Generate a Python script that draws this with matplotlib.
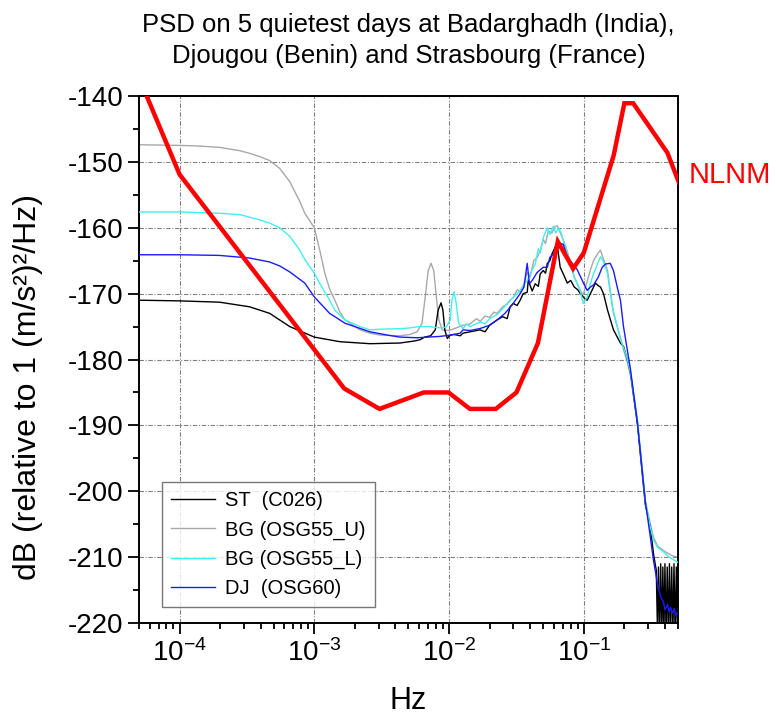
import numpy as np
import matplotlib
matplotlib.use("Agg")
import matplotlib.pyplot as plt
from matplotlib.ticker import MultipleLocator, LogLocator, NullFormatter
import matplotlib.transforms as mtransforms

plt.rcParams['font.family'] = ['Liberation Sans', 'DejaVu Sans']
plt.rcParams['mathtext.fontset'] = 'custom'
plt.rcParams['mathtext.rm'] = 'Liberation Sans'
plt.rcParams['mathtext.it'] = 'Liberation Sans:italic'
plt.rcParams['mathtext.bf'] = 'Liberation Sans:bold'
plt.rcParams['axes.unicode_minus'] = False

# ---------------- data ----------------
nlnm_period = [1.24, 2.40, 4.30, 5.00, 6.00, 10.0, 12.0, 15.6, 21.9, 31.6,
               45.0, 70.0, 101.0, 154.0, 328.0, 600.0, 10000.0, 100000.0]
nlnm_db = [-163.7, -148.6, -141.1, -141.1, -149.0, -163.8, -166.2, -162.1,
           -177.5, -185.0, -187.5, -187.5, -185.0, -185.0, -187.5, -184.4,
           -151.9, -103.1]

bgu_f = [5e-5, 1e-4, 1.41e-4, 1.98e-4, 2.79e-4, 3.31e-4, 3.93e-4, 4.67e-4,
         5.54e-4, 6.57e-4, 7.8e-4, 8.5e-4, 1e-3, 1.1e-3, 1.2e-3, 1.3e-3,
         1.42e-3, 1.55e-3, 1.69e-3, 2.18e-3, 2.59e-3, 3.07e-3, 4.32e-3,
         5.13e-3, 5.8e-3, 6.3e-3, 6.7e-3, 7.0e-3, 7.35e-3, 7.7e-3, 8.0e-3,
         8.4e-3, 8.9e-3, 1.0e-2, 1.1e-2, 1.27e-2, 1.43e-2, 1.6e-2, 1.7e-2,
         1.85e-2, 2.0e-2, 2.15e-2, 2.27e-2, 2.5e-2, 2.7e-2, 2.84e-2, 3.0e-2,
         3.2e-2, 3.37e-2, 3.6e-2, 3.8e-2, 4.0e-2, 4.25e-2, 4.5e-2, 4.75e-2,
         5.0e-2, 5.2e-2, 5.45e-2, 5.8e-2, 6.1e-2, 6.35e-2, 6.7e-2, 7.04e-2,
         7.54e-2, 7.94e-2, 8.5e-2, 8.95e-2, 9.4e-2, 0.099, 0.103, 0.112,
         0.118, 0.128, 0.133, 0.140, 0.150, 0.157, 0.166, 0.177, 0.187,
         0.197, 0.211, 0.222, 0.25, 0.272, 0.286, 0.312, 0.329, 0.352, 0.39,
         0.418, 0.455, 0.5]
bgu_db = [-147.4, -147.5, -147.6, -147.8, -148.3, -148.7, -149.2, -149.8,
          -151.0, -153.0, -156.0, -157.8, -160.0, -163.5, -167.0, -169.3,
          -171.0, -172.8, -174.0, -175.5, -176.0, -176.3, -176.4,
          -176.2, -175.8, -174.5, -170.0, -166.5, -165.4, -166.5, -170.0,
          -174.0, -175.5, -175.6, -175.3, -174.8, -174.6, -173.8, -174.2,
          -173.4, -173.6, -172.8, -173.0, -172.0, -171.6, -171.0, -170.6,
          -169.4, -169.8, -168.5, -166.8, -167.5, -165.0, -164.5, -163.5,
          -161.8, -162.4, -160.5, -160.8, -159.8, -159.7, -160.8, -161.8,
          -163.6, -165.2, -167.5, -168.5, -169.5, -170.2, -169.0, -166.4,
          -165.0, -163.8, -163.4, -164.8, -166.5, -169.5, -173.0, -175.0,
          -176.6, -178.5, -180.5, -182.5, -189.5, -197.0, -201.5, -205.0,
          -207.0, -208.3, -209.0, -209.4, -209.8, -210.0]

bgl_f = [5e-5, 1e-4, 1.41e-4, 1.98e-4, 2.79e-4, 3.93e-4, 4.67e-4, 5.54e-4,
         6.57e-4, 7.8e-4, 8.5e-4, 1e-3, 1.1e-3, 1.3e-3, 1.42e-3, 1.69e-3,
         2.18e-3, 2.59e-3, 3.07e-3, 4.55e-3, 5.13e-3, 6.0e-3, 7.0e-3,
         8.57e-3, 9.5e-3, 1.02e-2, 1.05e-2, 1.09e-2, 1.13e-2, 1.18e-2,
         1.27e-2, 1.35e-2, 1.43e-2, 1.7e-2, 1.85e-2, 2.0e-2, 2.27e-2, 2.5e-2,
         2.84e-2, 3.1e-2, 3.37e-2, 3.6e-2, 3.8e-2, 4.0e-2, 4.36e-2, 4.6e-2,
         4.75e-2, 5.0e-2, 5.36e-2, 5.6e-2, 5.93e-2, 6.2e-2, 6.5e-2, 6.8e-2,
         7.04e-2, 7.54e-2, 7.94e-2, 8.5e-2, 9.4e-2, 0.099, 0.106, 0.112,
         0.118, 0.128, 0.133, 0.140, 0.145, 0.150, 0.163, 0.177, 0.187, 0.197,
         0.211, 0.222, 0.25, 0.272, 0.286, 0.312, 0.329, 0.352, 0.39, 0.418,
         0.455, 0.5]
bgl_db = [-157.6, -157.6, -157.7, -157.8, -158.0, -158.8, -159.3, -160.0,
          -161.3, -163.4, -164.8, -166.9, -168.5, -171.0, -172.5, -174.0,
          -175.0, -175.5, -175.4, -175.3, -175.2, -175.0, -175.0,
          -175.2, -175.1, -174.0, -171.0, -169.7, -171.5, -174.5,
          -175.3, -174.6, -175.0, -174.3, -174.6, -173.8, -173.2, -172.3,
          -171.0, -170.3, -169.5, -168.6, -168.0, -167.0, -165.5, -163.2,
          -163.8, -161.5, -160.0, -161.0, -159.8, -160.8, -160.0, -160.8,
          -162.0, -163.8, -165.5, -167.5, -169.5, -171.5, -170.5, -168.5,
          -167.0, -165.2, -164.4, -165.2, -166.0, -167.0, -172.0, -175.0,
          -177.0, -178.2, -180.0, -182.0, -189.2, -196.8, -201.5, -205.5,
          -207.4, -208.5, -209.2, -209.8, -210.3, -210.8]

st_f = [5e-5, 1e-4, 1.98e-4, 3.31e-4, 4.67e-4, 6.57e-4, 1e-3, 1.55e-3,
        2.59e-3, 4.32e-3, 5.5e-3, 6.09e-3, 6.6e-3, 7.3e-3, 7.9e-3, 8.3e-3,
        8.72e-3, 9.0e-3, 9.3e-3, 9.7e-3, 1.02e-2, 1.09e-2, 1.21e-2, 1.27e-2,
        1.43e-2, 1.7e-2, 1.85e-2, 2.0e-2, 2.27e-2, 2.5e-2, 2.7e-2, 2.84e-2,
        3.0e-2, 3.2e-2, 3.37e-2, 3.55e-2, 3.8e-2, 3.87e-2, 4.14e-2, 4.36e-2,
        4.6e-2, 4.75e-2, 5.0e-2, 5.2e-2, 5.36e-2, 5.6e-2, 5.8e-2, 6.14e-2,
        6.35e-2, 6.68e-2, 7.04e-2, 7.54e-2, 8.0e-2, 8.5e-2, 9.0e-2, 9.42e-2,
        0.1, 0.106, 0.112, 0.122, 0.128, 0.133, 0.140, 0.150, 0.166, 0.187,
        0.197, 0.214, 0.222, 0.25, 0.272, 0.286, 0.312, 0.329, 0.345,
        0.352, 0.358, 0.365, 0.372, 0.379, 0.386, 0.393, 0.400, 0.408, 0.416,
        0.424, 0.432, 0.440, 0.449, 0.458, 0.467, 0.476, 0.486, 0.495, 0.5]
st_db = [-171.0, -171.1, -171.3, -172.0, -173.0, -175.0, -176.6, -177.3,
         -177.6, -177.5, -177.2, -177.0, -176.6, -176.4, -175.5, -172.5,
         -171.4, -172.5, -175.5, -176.8, -176.3, -176.2, -176.4, -176.0,
         -175.8, -175.5, -175.8, -174.8, -174.0, -173.5, -173.8, -172.0,
         -171.5, -171.8, -171.0, -170.0, -169.8, -168.0, -169.6, -168.5,
         -168.9, -167.0, -166.5, -166.9, -165.4, -165.0, -164.0, -162.9,
         -162.6, -166.0, -167.0, -168.4, -168.0, -169.0, -169.4, -170.0,
         -170.6, -171.0, -170.0, -168.4, -168.8, -169.0, -170.0, -172.5,
         -175.5, -177.5, -178.0, -180.5, -182.0, -189.8, -197.5, -202.0,
         -205.5, -209.5, -212.0,
         -221.0, -211.5, -222.0, -211.0, -222.0, -211.5, -222.0, -211.0,
         -222.0, -211.5, -222.0, -211.0, -222.0, -211.5, -222.0, -211.0,
         -222.0, -211.5, -222.0, -212.0]

dj_f = [5e-5, 1e-4, 1.98e-4, 3.31e-4, 4.67e-4, 5.54e-4, 6.57e-4, 8.5e-4,
        1e-3, 1.3e-3, 1.69e-3, 2.59e-3, 3.5e-3, 4.32e-3, 5.78e-3, 7.0e-3,
        8.5e-3, 1.02e-2, 1.21e-2, 1.27e-2, 1.43e-2, 1.7e-2, 2.0e-2, 2.27e-2,
        2.6e-2, 2.99e-2, 3.37e-2, 3.6e-2, 3.8e-2, 3.95e-2, 4.14e-2, 4.5e-2,
        5.0e-2, 5.36e-2, 5.6e-2, 5.93e-2, 6.14e-2, 6.46e-2, 7.04e-2, 7.54e-2,
        8.95e-2, 0.1, 0.106, 0.112, 0.118, 0.128, 0.137, 0.145, 0.157, 0.166,
        0.177, 0.187, 0.197, 0.214, 0.222, 0.25, 0.272, 0.286, 0.312, 0.329,
        0.352, 0.372, 0.39, 0.40, 0.418, 0.43, 0.44, 0.455, 0.47, 0.48, 0.5]
dj_db = [-164.1, -164.1, -164.2, -164.6, -165.2, -165.8, -166.7, -168.4,
         -170.5, -173.0, -174.5, -175.8, -176.3, -176.6, -176.7, -176.6,
         -176.5, -176.3, -176.0, -175.5, -175.6, -175.3, -174.8, -174.0,
         -173.0, -171.5, -170.0, -169.0, -165.4, -168.5, -168.0, -166.8,
         -166.0, -166.0, -164.5, -164.0, -163.5, -162.3, -162.5, -164.4,
         -166.4, -168.5, -169.5, -169.0, -168.7, -167.5, -166.0, -165.5,
         -165.4, -166.5, -169.0, -171.0, -175.0, -179.5, -181.5, -189.5,
         -197.0, -201.5, -207.0, -210.5, -214.0, -216.0, -216.8, -218.0,
         -217.2, -218.3, -217.6, -218.5, -217.8, -218.8, -218.5]

labels = ['ST  (C026)', 'BG (OSG55_U)', 'BG (OSG55_L)', 'DJ  (OSG60)']
colors = ['#000000', '#a8a8a8', '#40f0f0', '#1a1aff']

# ---------------- figure ----------------
fig = plt.figure(figsize=(7.76, 7.19), dpi=100)
ax = fig.add_axes([0.1791, 0.1335, 0.6946, 0.7330])

h_bgu, = ax.plot(bgu_f, bgu_db, color=colors[1], lw=1.0, zorder=2)
h_st, = ax.plot(st_f, st_db, color=colors[0], lw=1.0, zorder=3)
h_bgl, = ax.plot(bgl_f, bgl_db, color=colors[2], lw=1.0, zorder=4)
h_dj, = ax.plot(dj_f, dj_db, color=colors[3], lw=1.0, zorder=5)
nlnm_f = [1.0 / p for p in nlnm_period]
ax.plot(nlnm_f, nlnm_db, color='#ff0000', lw=3.2, zorder=6,
        solid_joinstyle='miter')

ax.set_xscale('log')
ax.set_xlim(5e-5, 0.5)
ax.set_ylim(-220, -140)
ax.yaxis.set_major_locator(MultipleLocator(10))
ax.yaxis.set_minor_locator(MultipleLocator(5))
ax.xaxis.set_major_locator(LogLocator(base=10, numticks=20))
ax.xaxis.set_minor_locator(LogLocator(base=10, subs=np.arange(2, 10), numticks=20))
ax.xaxis.set_minor_formatter(NullFormatter())

ax.grid(True, which='major', color='#808080', lw=0.8,
        linestyle=(0, (4, 1.5, 1, 1.5)))
ax.tick_params(which='both', direction='out', top=False, right=False,
               width=1.3, labelsize=20)
ax.tick_params(which='major', length=8)
ax.tick_params(which='minor', length=4.5)
for s in ax.spines.values():
    s.set_linewidth(1.4)

ax.set_xlabel('Hz', fontsize=22, labelpad=14)
ax.set_ylabel('dB (relative to 1 (m/s²)²/Hz)', fontsize=23)
ax.yaxis.set_label_coords(-0.178, 0.448)
ax.set_title('PSD on 5 quietest days at Badarghadh (India),\n'
             'Djougou (Benin) and Strasbourg (France)',
             fontsize=18.5, pad=24, linespacing=1.35)

trans = mtransforms.blended_transform_factory(ax.transAxes, ax.transData)
ax.text(1.02, -152, 'NLNM', color='#ff0000', fontsize=21,
        transform=trans, va='center', ha='left')

leg = ax.legend([h_st, h_bgu, h_bgl, h_dj], labels, loc='lower left',
                bbox_to_anchor=(0.0427, 0.0304), borderaxespad=0,
                fontsize=14.5, frameon=True, fancybox=False,
                edgecolor='#555555', handlelength=2.2, labelspacing=0.5,
                handletextpad=0.5, borderpad=0.45, handleheight=0.7)
leg.get_frame().set_linewidth(1.0)

fig.savefig('out.png', dpi=100)
